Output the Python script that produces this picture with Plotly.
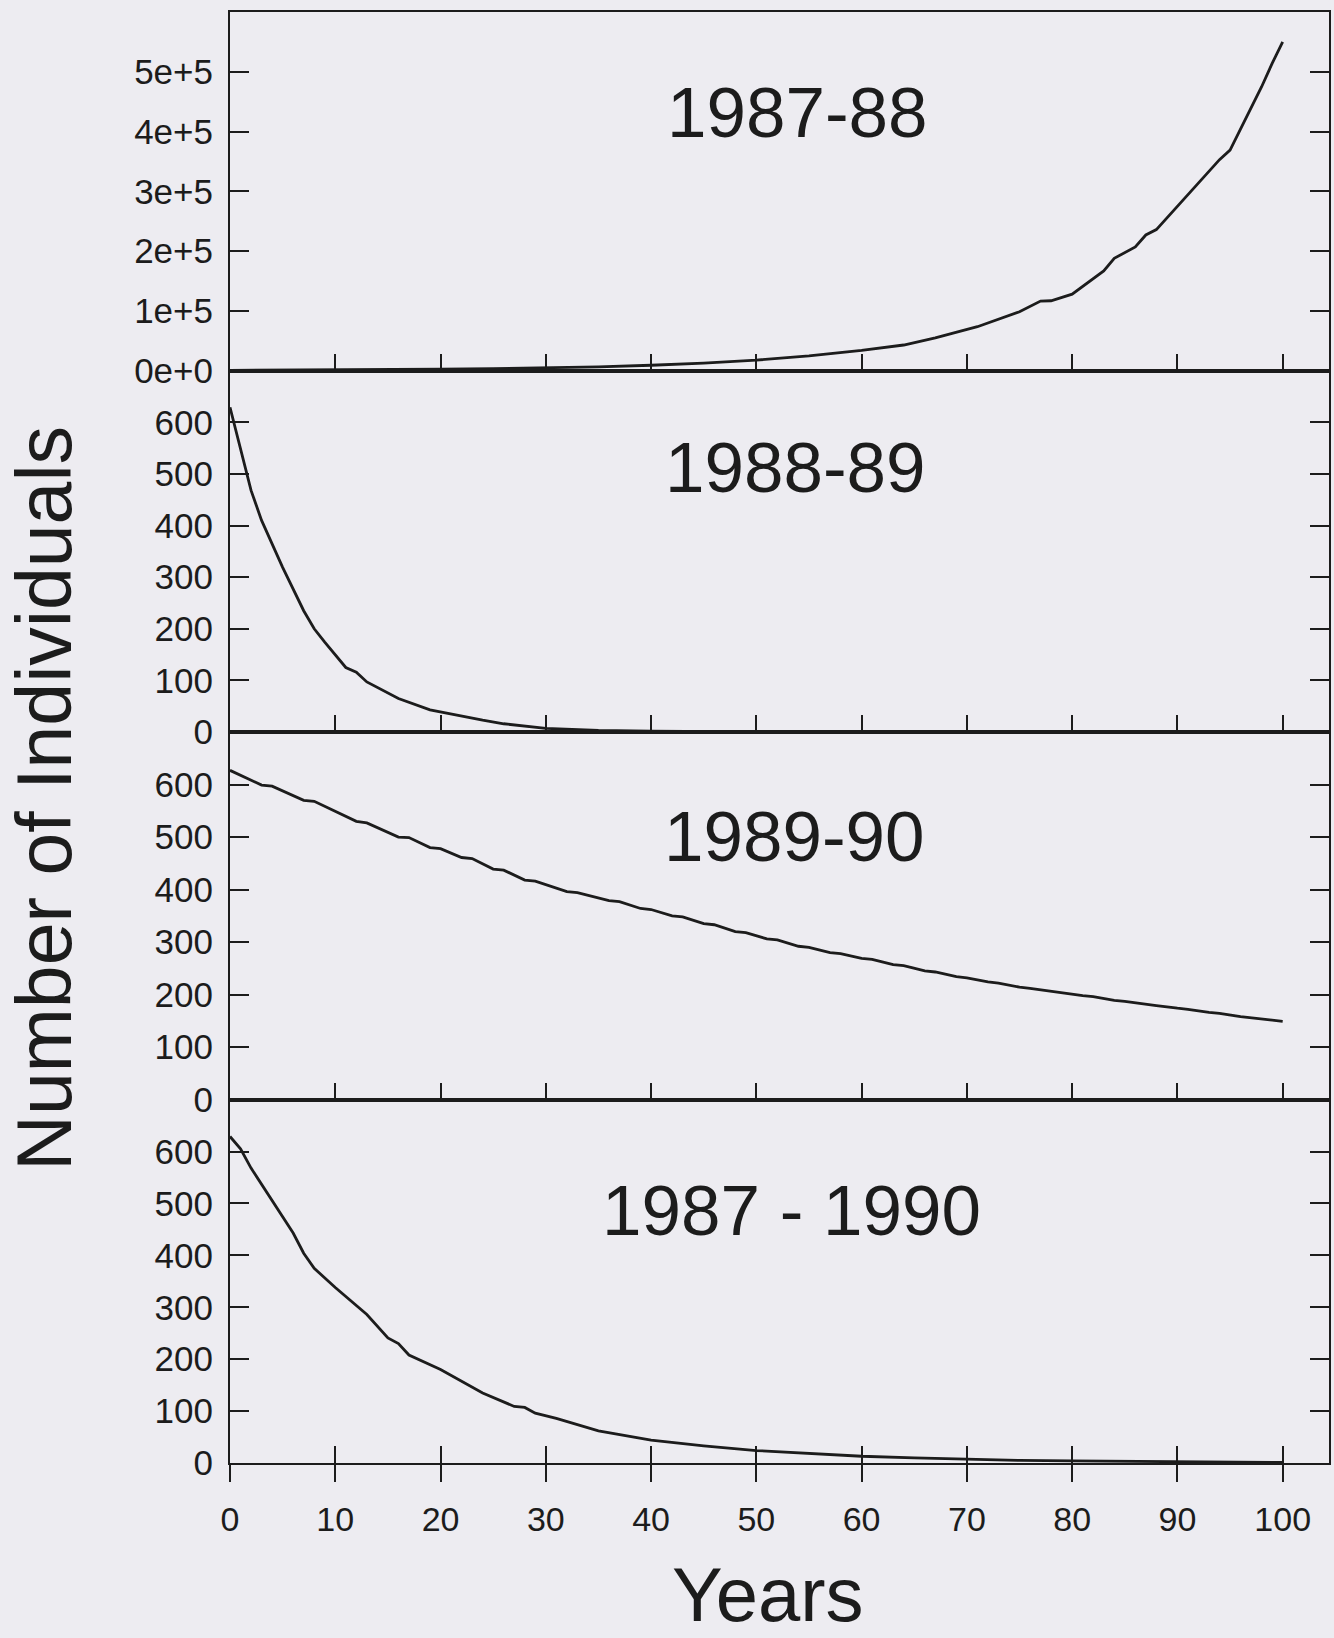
import plotly.graph_objects as go
from plotly.subplots import make_subplots

# ---------------- data ----------------
years_8788 = [0, 5, 10, 15, 20, 25, 30, 35, 40, 45, 50, 55, 60, 64, 67, 71, 75, 77, 78, 80,
              83, 84, 86, 87, 88, 91, 94, 95, 98, 99, 100]
pop_8788 = [628, 880, 1230, 1720, 2400, 3350, 4700, 6500, 9100, 12700, 17700, 24800, 34000,
            43000, 55000, 73600, 98700, 116500, 117000, 128000, 167000, 188000, 207000,
            227000, 236000, 294000, 353000, 369000, 475000, 514000, 550000]

years_8889 = [0, 1, 2, 3, 5, 7, 8, 9, 10, 11, 12, 13, 16, 19, 24, 26, 30, 35, 40, 45, 50,
              60, 70, 80, 90, 100]
pop_8889 = [629, 551, 468, 410, 319, 235, 200, 174, 150, 125, 116, 97, 65, 43, 23, 16, 7, 3,
            1.5, 0.7, 0.3, 0, 0, 0, 0, 0]

years_8990 = [0, 3, 4, 7, 8, 12, 13, 16, 17, 19, 20, 22, 23, 25, 26, 28, 29, 32, 33,
              36, 37, 39, 40, 42, 43, 45, 46, 48, 49, 51, 52, 54, 55, 57, 58, 60, 61,
              63, 64, 66, 67, 69, 70, 72, 73, 75, 76, 78, 79, 81, 82, 84, 85, 87, 88,
              90, 91, 93, 94, 96, 97, 99, 100]
pop_8990 = [627, 599, 597, 570, 568, 530, 527, 500, 499, 480, 478, 461, 459, 439, 437, 418,
            416, 396, 394,
            379, 377, 364, 362, 350, 348, 335, 333, 320, 318, 306, 304, 292, 290, 280, 278,
            269, 267, 257, 255, 245, 243, 234, 232, 224, 222, 214, 212, 206, 204, 198, 196,
            189, 187, 181, 179, 174, 172, 166, 164, 158, 156, 151, 149]

years_8790 = [0, 1, 2, 4, 6, 7, 8, 10, 13, 15, 16, 17, 20, 24, 27, 28, 29, 31, 35, 40, 45,
              50, 55, 60, 65, 70, 75, 80, 85, 90, 95, 100]
pop_8790 = [629, 605, 568, 505, 443, 404, 375, 338, 286, 241, 230, 208, 180, 135, 109, 107,
            96, 86, 62, 44, 33, 24, 18, 13, 10, 7, 5, 4, 3, 2, 1.5, 1]

panel_titles = ["1987-88", "1988-89", "1989-90", "1987 - 1990"]
x_ticks = [0, 10, 20, 30, 40, 50, 60, 70, 80, 90, 100]
y_ticks_top = [0, 100000, 200000, 300000, 400000, 500000]
y_ticktext_top = ["0e+0", "1e+5", "2e+5", "3e+5", "4e+5", "5e+5"]
y_ticks = [0, 100, 200, 300, 400, 500, 600]

series = [(years_8788, pop_8788), (years_8889, pop_8889),
          (years_8990, pop_8990), (years_8790, pop_8790)]

# ---------------- style ----------------
BG = "#edecf1"
INK = "#1c1c1c"
FONT = "Liberation Sans, Arial, sans-serif"
Y_TICK_FONT = dict(family=FONT, size=35, color=INK)
X_TICK_FONT = dict(family=FONT, size=34, color=INK)

fig = make_subplots(rows=4, cols=1, vertical_spacing=0,
                    row_heights=[343.5, 346, 352, 348])

for i, (xs, ys) in enumerate(series, start=1):
    fig.add_trace(go.Scatter(x=xs, y=ys, mode="lines",
                             line=dict(color=INK, width=2.8),
                             showlegend=False, hoverinfo="skip"), row=i, col=1)

XR = [0, 104.4]
for i in range(1, 5):
    fig.update_xaxes(row=i, col=1, range=XR, tickvals=x_ticks, ticks="inside", ticklen=17,
                     tickwidth=2, tickcolor=INK, showline=True, linecolor=INK, linewidth=2,
                     mirror=True, showgrid=False, zeroline=False,
                     showticklabels=(i == 4), tickfont=X_TICK_FONT,
                     ticklabelstandoff=25)
    if i == 1:
        fig.update_yaxes(row=i, col=1, range=[0, 600000], tickvals=y_ticks_top,
                         ticktext=y_ticktext_top)
    else:
        fig.update_yaxes(row=i, col=1, range=[0, 700], tickvals=y_ticks)
    fig.update_yaxes(row=i, col=1, ticks="inside", ticklen=19, tickwidth=2, tickcolor=INK,
                     showline=True, linecolor=INK, linewidth=2, mirror="ticks",
                     showgrid=False, zeroline=False, tickfont=Y_TICK_FONT,
                     ticklabelstandoff=8)

# outward half of the crossing ticks on the bottom axis
fig.add_trace(go.Scatter(x=[], y=[], xaxis="x5", yaxis="y4", showlegend=False,
                         hoverinfo="skip"))
fig.update_layout(xaxis5=dict(overlaying="x4", anchor="y4", side="bottom", range=XR,
                              tickvals=x_ticks, ticks="outside", ticklen=18, tickwidth=2,
                              tickcolor=INK, showticklabels=False, showgrid=False,
                              zeroline=False, showline=False))

# panel titles
title_pos = [(0.516, 0.931), (0.515, 0.686), (0.514, 0.432), (0.511, 0.174)]
annotations = []
for t, (px, py) in zip(panel_titles, title_pos):
    annotations.append(dict(text=t, x=px, y=py, xref="paper", yref="paper",
                            xanchor="center", yanchor="middle", showarrow=False,
                            font=dict(family=FONT, size=71, color=INK)))
annotations.append(dict(text="Number of Individuals", x=-0.169, y=0.458, xref="paper",
                        yref="paper", xanchor="center", yanchor="middle", textangle=-90,
                        showarrow=False, font=dict(family=FONT, size=77, color=INK)))
annotations.append(dict(text="Years", x=0.4896, y=-0.0905, xref="paper", yref="paper",
                        xanchor="center", yanchor="middle", showarrow=False,
                        font=dict(family=FONT, size=76, color=INK)))

fig.update_layout(width=1334, height=1638, paper_bgcolor=BG, plot_bgcolor=BG,
                  margin=dict(l=230, r=3, t=12, b=175), annotations=annotations,
                  font=dict(family=FONT, color=INK))

fig.write_html("out.html", config={"displayModeBar": False},
               post_script="document.body.style.margin='0px';"
                           "document.body.style.background='" + BG + "';")
